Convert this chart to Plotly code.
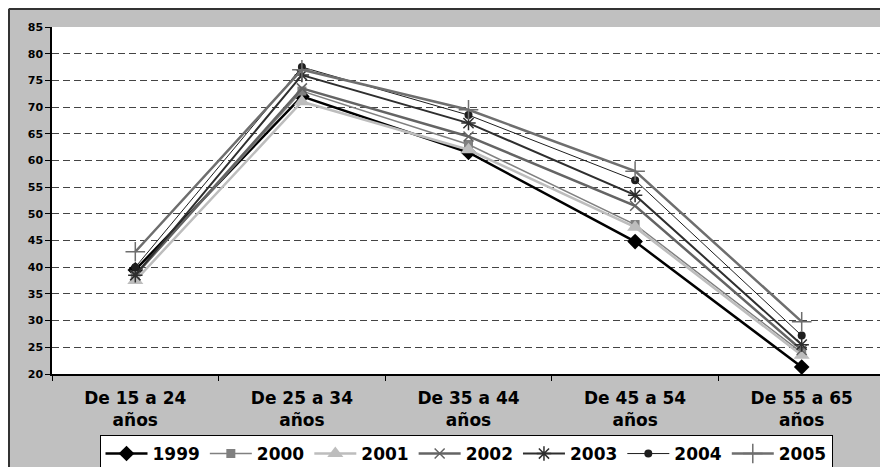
import plotly.graph_objects as go

categories = ["De 15 a 24<br>años", "De 25 a 34<br>años", "De 35 a 44<br>años",
              "De 45 a 54<br>años", "De 55 a 65<br>años"]
years = ["1999", "2000", "2001", "2002", "2003", "2004", "2005"]
v1999 = [39.5, 72.0, 61.5, 44.8, 21.3]
v2000 = [38.5, 73.0, 63.0, 48.0, 24.0]
v2001 = [37.5, 71.0, 62.0, 47.5, 23.5]
v2002 = [38.5, 73.5, 64.5, 51.5, 24.5]
v2003 = [38.5, 76.0, 67.0, 53.5, 25.5]
v2004 = [40.0, 77.5, 68.5, 56.3, 27.2]
v2005 = [42.9, 77.0, 69.5, 58.0, 29.8]
series = [v1999, v2000, v2001, v2002, v2003, v2004, v2005]

styles = [
    dict(color="#000000", width=2.5, symbol="diamond", msize=12, mline=None),
    dict(color="#808080", width=1.5, symbol="square", msize=9, mline=None),
    dict(color="#BDBDBD", width=2.5, symbol="triangle-up", msize=14, mline=None),
    dict(color="#646464", width=2.5, symbol="x-thin-open", msize=10, mline=1.5),
    dict(color="#2E2E2E", width=2.0, symbol="asterisk-open", msize=12, mline=1.5),
    dict(color="#1E1E1E", width=1.0, symbol="circle", msize=8, mline=None),
    dict(color="#6E6E6E", width=2.5, symbol="cross-thin-open", msize=14, mline=1.5),
]

fig = go.Figure()
for name, vals, st in zip(years, series, styles):
    marker = dict(symbol=st["symbol"], size=st["msize"], color=st["color"])
    if st["mline"]:
        marker["line"] = dict(color=st["color"], width=st["mline"])
    fig.add_trace(go.Scatter(
        x=categories, y=vals, name=name, mode="lines+markers",
        line=dict(color=st["color"], width=st["width"]),
        marker=marker,
    ))

# figure is placed at (8, 8) in the page by the body margin
W, H = 882, 462
L, R, T, B = 44, 5, 19, 96
pw = W - L - R
ph = H - T - B

def px_x(p):
    return (p - L) / pw

def px_y(p):
    return (H - B - p) / ph

fig.update_layout(
    width=W, height=H,
    margin=dict(l=L, r=R, t=T, b=B, autoexpand=False),
    paper_bgcolor="#C0C0C0",
    plot_bgcolor="#FFFFFF",
    font=dict(family="Verdana, DejaVu Sans, sans-serif", color="#000000"),
    showlegend=True,
    legend=dict(
        orientation="h",
        x=px_x(458), xanchor="center",
        y=px_y(427), yanchor="top",
        bgcolor="#FFFFFF", bordercolor="#000000", borderwidth=1,
        font=dict(size=17, family="Verdana, DejaVu Sans, sans-serif", weight="bold"),
        itemwidth=42,
        tracegroupgap=0,
    ),
    xaxis=dict(
        type="category", automargin=False,
        showline=True, linecolor="#000000", linewidth=1.5,
        ticks="outside", ticklen=5, tickcolor="#000000", tickson="boundaries",
        showgrid=False,
        tickfont=dict(size=17, weight="bold"),
        ticklabelstandoff=8,
        range=[-0.5, 4.5],
    ),
    yaxis=dict(
        range=[20, 85], dtick=5, automargin=False,
        showline=True, linecolor="#000000", linewidth=1.5,
        ticks="outside", ticklen=5, tickcolor="#000000",
        showgrid=True, gridcolor="#444444", gridwidth=1, griddash="7px,4px",
        tickfont=dict(size=11, weight="bold"),
        zeroline=False,
    ),
    shapes=[
        dict(type="line", xref="paper", yref="paper", x0=1, x1=1, y0=0, y1=1,
             line=dict(color="#808080", width=2)),
        dict(type="line", xref="paper", yref="paper", x0=px_x(1), x1=px_x(1),
             y0=px_y(H + 5), y1=px_y(1), line=dict(color="#333333", width=2)),
        dict(type="line", xref="paper", yref="paper", x0=px_x(1), x1=px_x(W + 5),
             y0=px_y(1), y1=px_y(1), line=dict(color="#333333", width=2)),
    ],
)

fig.write_html("out.html")
